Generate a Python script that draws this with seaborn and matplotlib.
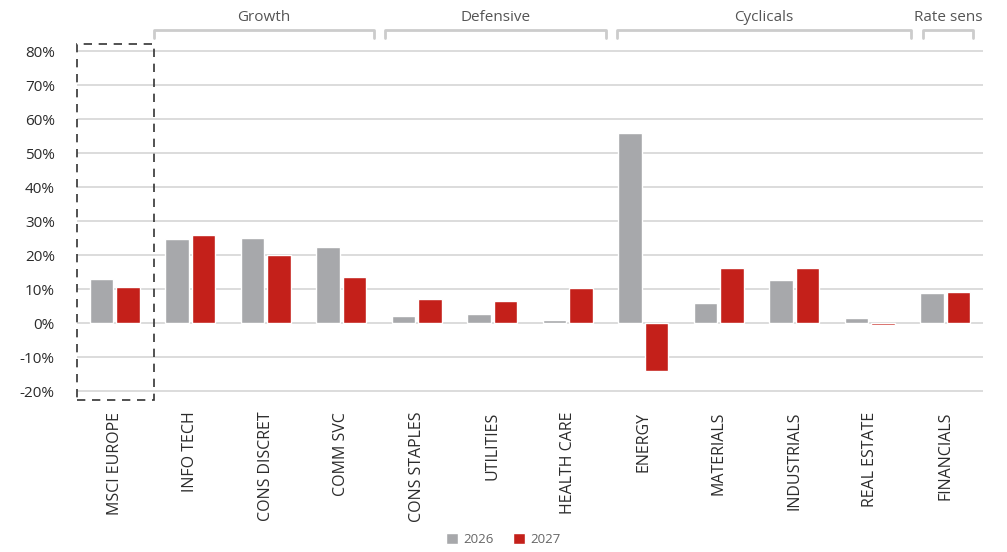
import pandas as pd
import matplotlib.pyplot as plt
import matplotlib.patches as patches
import seaborn as sns

sns.set_style("white")
plt.rcParams['font.family'] = ['Open Sans', 'DejaVu Sans']

# Data (EPS growth, %)
sectors = ['MSCI EUROPE', 'INFO TECH', 'CONS DISCRET', 'COMM SVC', 'CONS STAPLES',
           'UTILITIES', 'HEALTH CARE', 'ENERGY', 'MATERIALS', 'INDUSTRIALS',
           'REAL ESTATE', 'FINANCIALS']
growth_2026 = [13.0, 24.7, 24.9, 22.4, 2.2, 2.8, 1.0, 55.8, 5.8, 12.6, 1.5, 8.8]
growth_2027 = [10.7, 25.8, 20.1, 13.4, 7.1, 6.4, 10.4, -14.0, 16.1, 16.3, -0.5, 9.2]
years = ['2026', '2027']

groups = ['Growth', 'Defensive', 'Cyclicals', 'Rate sens']
group_spans = [(0.52, 3.43), (3.58, 6.51), (6.65, 10.54), (10.70, 11.37)]

df = pd.DataFrame({
    'sector': sectors * 2,
    'year': [years[0]] * len(sectors) + [years[1]] * len(sectors),
    'value': growth_2026 + growth_2027,
})

fig = plt.figure(figsize=(10.07, 5.52), dpi=100)
ax = fig.add_axes([0.0765, 0.2793, 0.8997, 0.6406])

sns.barplot(data=df, x='sector', y='value', hue='year', order=sectors,
            palette={'2026': '#A7A8AB', '2027': '#C4201A'},
            width=0.7, gap=0.1, ax=ax, legend=True, saturation=1)

ax.set_xlim(-0.5, len(sectors) - 0.5)
ax.set_ylim(-22, 82)
ax.set_yticks(range(-20, 81, 10))
ax.set_yticklabels([f'{v}%' for v in range(-20, 81, 10)], fontsize=11, color='#2b2b2b')
ax.yaxis.grid(True, color='#D9D9D9', linewidth=1.3)
ax.set_axisbelow(True)
ax.tick_params(axis='y', length=0, pad=16)
ax.tick_params(axis='x', length=0, pad=10)
plt.setp(ax.get_xticklabels(), rotation=90, fontsize=11.5, color='#2b2b2b')
ax.set_xlabel('')
ax.set_ylabel('')
for s in ax.spines.values():
    s.set_visible(False)

# dashed box around the index
box = patches.Rectangle((-0.5, -22.6), 1.02, 104.6, fill=False, linestyle=(0, (5, 4)),
                        edgecolor='#333333', linewidth=1.2, clip_on=False)
ax.add_patch(box)

# group brackets
for name, (x0, x1) in zip(groups, group_spans):
    ax.plot([x0, x0, x1, x1], [83.8, 86.2, 86.2, 83.8], color='#CCCCCC',
            linewidth=2, clip_on=False, solid_joinstyle='round')
    ax.text((x0 + x1) / 2, 87.6, name, ha='center', va='bottom', fontsize=11,
            color='#555555', clip_on=False)

handles, labels = ax.get_legend_handles_labels()
ax.legend_.remove()
fig.legend(handles, labels, loc='lower center', ncol=2, frameon=False,
           bbox_to_anchor=(0.5, -0.01), fontsize=9.5, handlelength=0.9,
           handleheight=0.9, columnspacing=1.5, handletextpad=0.4,
           labelcolor='#666666')

fig.savefig('out.png', dpi=100)
